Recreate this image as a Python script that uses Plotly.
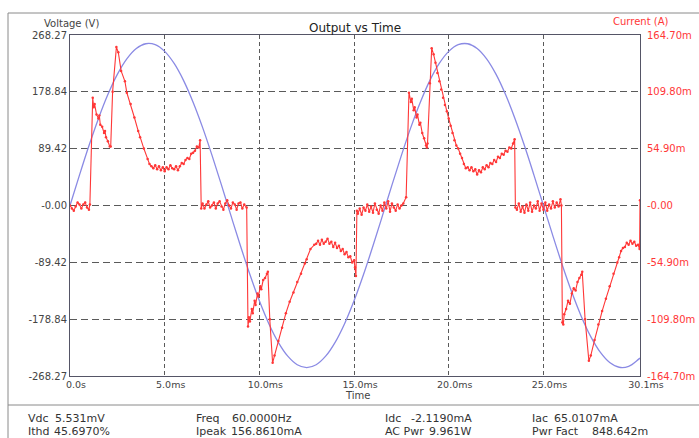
import plotly.graph_objects as go

# ---------------- data ----------------
volt_t = [0.0, 0.5, 1.0, 1.5, 2.0, 2.5, 3.0, 3.5, 4.0, 4.5, 5.0, 5.5, 6.0, 6.5, 7.0, 7.5,
          8.0, 8.5, 9.0, 9.5, 10.0, 10.5, 11.0, 11.5, 12.0, 12.5, 13.0, 13.5, 14.0, 14.5,
          15.0, 15.5, 16.0, 16.5, 17.0, 17.5, 18.0, 18.5, 19.0, 19.5, 20.0, 20.5, 21.0,
          21.5, 22.0, 22.5, 23.0, 23.5, 24.0, 24.5, 25.0, 25.5, 26.0, 26.5, 27.0, 27.5,
          28.0, 28.5, 29.0, 29.5, 30.0, 30.1]
volt_v = [0.0, 47.8, 93.9, 136.6, 174.5, 206.3, 230.7, 247.0, 254.5, 253.0, 242.5, 223.5,
          196.5, 162.5, 122.9, 78.8, 32.0, -16.0, -63.4, -108.6, -149.9, -185.9, -215.3,
          -237.1, -250.5, -255.0, -250.5, -237.1, -215.3, -185.9, -149.9, -108.6, -63.4,
          -16.0, 32.0, 78.8, 122.9, 162.5, 196.5, 223.5, 242.5, 253.0, 254.5, 247.0, 230.7,
          206.3, 174.5, 136.6, 93.9, 47.8, 0.0, -47.8, -93.9, -136.6, -174.5, -206.3,
          -230.7, -247.0, -254.5, -253.0, -242.5, -240.0]

# Current (mA)
curr_t = [0.0, 0.1, 0.2, 0.3, 0.4, 0.5, 0.6, 0.7, 0.8, 0.9, 1.0, 1.05,
          1.2, 1.25, 1.3, 1.4, 1.5, 1.55, 1.6, 1.7, 1.8, 1.85, 1.9, 2.0, 2.1, 2.15,
          2.25, 2.45, 2.55, 2.7, 2.9, 3.0, 3.2, 3.4, 3.6, 3.7, 3.9, 4.1, 4.2, 4.3,
          4.4, 4.5, 4.6, 4.7, 4.8, 4.9, 5.0, 5.1, 5.2, 5.3, 5.4, 5.5, 5.6, 5.7, 5.8,
          5.9, 6.0, 6.1, 6.2, 6.3, 6.4, 6.5, 6.6, 6.7, 6.8, 6.87, 6.93,
          7.0, 7.1, 7.2, 7.3, 7.4, 7.5, 7.6, 7.7, 7.8, 7.9, 8.0, 8.1, 8.2, 8.3, 8.4,
          8.5, 8.6, 8.7, 8.8, 8.9, 9.0, 9.1, 9.2, 9.33,
          9.4, 9.45, 9.5, 9.6, 9.65, 9.75, 9.8, 9.9, 9.95, 10.05, 10.1, 10.2, 10.3,
          10.4, 10.45, 10.55, 10.7, 10.8, 11.0, 11.2, 11.4, 11.6, 11.8, 12.0, 12.2,
          12.4, 12.5, 12.7, 12.9, 13.0, 13.1, 13.2, 13.3, 13.4, 13.5, 13.6, 13.7,
          13.8, 13.9, 14.0, 14.1, 14.2, 14.3, 14.4, 14.5, 14.6, 14.7, 14.8, 14.9,
          15.0, 15.05, 15.1, 15.15,
          15.2, 15.3, 15.4, 15.5, 15.6, 15.7, 15.8, 15.9, 16.0, 16.1, 16.2, 16.3,
          16.4, 16.5, 16.6, 16.7, 16.8, 16.9, 17.0, 17.1, 17.2, 17.3, 17.4, 17.5,
          17.6, 17.75,
          17.9, 18.0, 18.05, 18.15, 18.2, 18.3, 18.35, 18.45, 18.5, 18.6, 18.7, 18.8,
          18.85, 18.88, 19.0, 19.1, 19.2, 19.3, 19.4, 19.5, 19.6, 19.7, 19.8, 19.9,
          20.0, 20.1, 20.2, 20.3, 20.4, 20.5, 20.6, 20.7, 20.8, 20.9,
          21.0, 21.1, 21.2, 21.3, 21.4, 21.5, 21.6, 21.7, 21.8, 21.9, 22.0, 22.1,
          22.2, 22.3, 22.4, 22.5, 22.6, 22.7, 22.8, 22.9, 23.0, 23.1, 23.2, 23.3,
          23.4, 23.48, 23.52,
          23.6, 23.7, 23.8, 23.9, 24.0, 24.1, 24.2, 24.3, 24.4, 24.5, 24.6, 24.7,
          24.8, 24.9, 25.0, 25.1, 25.2, 25.3, 25.4, 25.5, 25.6, 25.7, 25.8, 25.9, 25.95,
          26.0, 26.05, 26.1, 26.2, 26.3, 26.4, 26.5, 26.6, 26.7, 26.8, 26.9, 27.0,
          27.05, 27.2, 27.4, 27.5, 27.7, 27.9, 28.1, 28.3, 28.5, 28.7, 28.9, 29.0,
          29.1, 29.2, 29.3, 29.4, 29.5, 29.6, 29.7, 29.8, 29.9, 30.0, 30.08, 30.1]
curr_i = [0, -3, -5, -1, 3, 1, -3, 1, 3, -2, -4, 1,
          104, 95, 98, 88, 84, 87, 78, 76, 70, 72, 66, 62, 57, 57,
          110, 153, 148, 130, 120, 109, 98, 85, 72, 66, 55, 45, 40, 38,
          36, 39, 35, 38, 34, 37, 33, 37, 35, 39, 36, 35, 38, 34, 38,
          41, 40, 44, 46, 45, 50, 51, 53, 57, 56, 63, -3,
          2, -3, 1, 4, -2, 0, 3, -3, 2, 4, -1, -4, 2, 5, 0,
          -3, 3, 1, -4, 2, 3, -3, 1, -2,
          -117, -108, -112, -100, -104, -92, -96, -85, -88, -78, -81, -72, -70,
          -66, -64, -110, -152, -145, -131, -118, -104, -93, -84, -74, -66,
          -56, -52, -42, -38, -37, -34, -38, -33, -37, -35, -32, -37,
          -35, -40, -36, -41, -39, -44, -42, -47, -45, -50, -49, -55,
          -53, -60, -68, -5,
          -8, -3, -9, -2, -5, 1, -6, -1, -7, 2, -4, -8,
          0, -5, 3, -3, 4, -6, 2, -2, -5, 1, -3, 0,
          2, 8,
          109, 100, 103, 92, 95, 85, 88, 78, 80, 70, 65, 58,
          56, 60, 118, 152, 146, 138, 128, 120, 112, 104, 97, 91,
          84, 77, 70, 63, 58, 55, 50, 46, 40, 36,
          37, 34, 37, 33, 35, 30, 34, 32, 37, 35, 39, 37,
          41, 40, 44, 42, 47, 46, 50, 49, 53, 52, 56, 55,
          60, 64, -2,
          -4, 2, -6, -1, -7, 1, -5, 3, -6, 0, -3, 4,
          -5, 2, -4, 3, -5, 1, -3, 4, -2, 3, -1, 6, 0,
          -113, -115, -105, -100, -92, -95, -85, -80, -82, -74, -70, -67,
          -64, -110, -150, -145, -130, -115, -102, -90, -78, -66, -55, -50,
          -44, -41, -40, -36, -38, -34, -37, -35, -39, -38, -42, 5]

x_tickvals = [0, 5, 10, 15, 20, 25, 30.1]
x_ticktext = ["0.0s", "5.0ms", "10.0ms", "15.0ms", "20.0ms", "25.0ms", "30.1ms"]
v_tickvals = [268.27, 178.84, 89.42, 0, -89.42, -178.84, -268.27]
v_ticktext = ["268.27", "178.84", "89.42", "-0.00", "-89.42", "-178.84", "-268.27"]
i_tickvals = [164.70, 109.80, 54.90, 0, -54.90, -109.80, -164.70]
i_ticktext = ["164.70m", "109.80m", "54.90m", "-0.00", "-54.90m", "-109.80m", "-164.70m"]

stats_labels = ["Vdc", "Ithd", "Freq", "Ipeak", "Idc", "AC Pwr", "Iac", "Pwr Fact"]
stats_values = ["5.531mV", "45.6970%", "60.0000Hz", "156.8610mA", "-2.1190mA", "9.961W",
                "65.0107mA", "848.642m"]

# ---------------- layout constants ----------------
W, H = 699, 438
L, R, T, B = 70, 640, 35, 376
FONT = "DejaVu Sans"
BLUE = "rgb(138,138,228)"
RED = "rgb(255,55,55)"
GRID = "#5a5a5a"
AX = "#555566"


def px_x(px):
    return (px - L) / (R - L)


def px_y(py):
    return (B - py) / (B - T)


fig = go.Figure()
fig.add_trace(go.Scatter(x=volt_t, y=volt_v, mode="lines", line=dict(color=BLUE, width=1.3, shape="spline"),
                         name="Voltage", yaxis="y"))
fig.add_trace(go.Scatter(x=curr_t, y=curr_i, mode="lines+markers", line=dict(color=RED, width=1.1),
                         marker=dict(size=2.5, color=RED), name="Current", yaxis="y2"))

fig.update_layout(
    width=W, height=H, autosize=False,
    margin=dict(l=L, r=W - R, t=T, b=H - B),
    paper_bgcolor="white", plot_bgcolor="white",
    showlegend=False,
    font=dict(family=FONT, size=10, color="#444"),
    xaxis=dict(range=[0, 30.1], tickvals=x_tickvals, ticktext=x_ticktext,
               showgrid=True, gridcolor=GRID, griddash="4px,3px", gridwidth=1,
               showline=True, linecolor=AX, linewidth=1, mirror=True,
               zeroline=False, ticks="", tickfont=dict(size=9.5, color="#444"),
               ticklabelshift=6, automargin=False),
    yaxis=dict(range=[-268.27, 268.27], tickvals=v_tickvals, ticktext=v_ticktext,
               showgrid=True, gridcolor=GRID, griddash="7px,4px", gridwidth=1,
               showline=True, linecolor=AX, linewidth=1, mirror=True,
               zeroline=False, ticks="", tickfont=dict(size=10, color="#444"),
               automargin=False),
    yaxis2=dict(range=[-164.70, 164.70], tickvals=i_tickvals, ticktext=i_ticktext,
                overlaying="y", side="right", showgrid=False, zeroline=False,
                showline=False, ticks="", tickfont=dict(size=10, color=RED),
                ticklabelstandoff=6, automargin=False),
)

ann = []
ann.append(dict(text="Output vs Time", x=px_x(355), y=px_y(28), xref="paper", yref="paper",
                xanchor="center", yanchor="middle", showarrow=False,
                font=dict(family=FONT, size=12, color="#222")))
ann.append(dict(text="Voltage (V)", x=px_x(71), y=px_y(23), xref="paper", yref="paper",
                xanchor="center", yanchor="middle", showarrow=False,
                font=dict(family=FONT, size=10, color="#444")))
ann.append(dict(text="Current (A)", x=px_x(640), y=px_y(21), xref="paper", yref="paper",
                xanchor="center", yanchor="middle", showarrow=False,
                font=dict(family=FONT, size=10, color=RED)))
ann.append(dict(text="Time", x=px_x(357), y=px_y(395), xref="paper", yref="paper",
                xanchor="center", yanchor="middle", showarrow=False,
                font=dict(family=FONT, size=10, color="#444")))

label_x = [26, 26, 194, 194, 383, 383, 530, 530]
value_x = [53, 52, 230, 229, 409, 427, 552, 590]
row_y = [419, 431, 419, 431, 419, 431, 419, 431]
for lab, val, lx, vx, ry in zip(stats_labels, stats_values, label_x, value_x, row_y):
    ann.append(dict(text=lab, x=px_x(lx), y=px_y(ry), xref="paper", yref="paper",
                    xanchor="left", yanchor="middle", showarrow=False,
                    font=dict(family=FONT, size=11, color="#333")))
    ann.append(dict(text=val, x=px_x(vx), y=px_y(ry), xref="paper", yref="paper",
                    xanchor="left", yanchor="middle", showarrow=False,
                    font=dict(family=FONT, size=11, color="#333")))
fig.update_layout(annotations=ann)

# outer frame lines
FRAME = "#8a8a8a"
fig.add_shape(type="line", xref="paper", yref="paper", x0=px_x(8), x1=px_x(699), y0=px_y(13), y1=px_y(13),
              line=dict(color=FRAME, width=1))
fig.add_shape(type="line", xref="paper", yref="paper", x0=px_x(8), x1=px_x(8), y0=px_y(13), y1=px_y(438),
              line=dict(color=FRAME, width=1))
fig.add_shape(type="line", xref="paper", yref="paper", x0=px_x(8), x1=px_x(699), y0=px_y(405), y1=px_y(405),
              line=dict(color=FRAME, width=1))

fig.write_html("out.html")
